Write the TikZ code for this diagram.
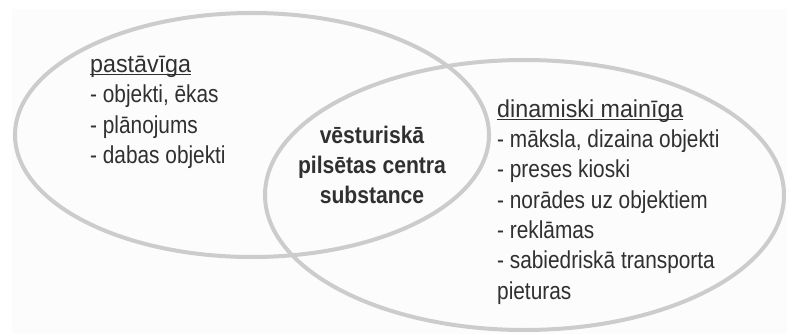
\documentclass[tikz,border=0pt]{standalone}
\usepackage{fontspec}
\setmainfont[FakeStretch=0.85]{Liberation Sans}
\newfontfamily\headfont[FakeStretch=0.95]{Liberation Sans}
\newfontfamily\corefont[FakeStretch=0.88]{Liberation Sans}
\usepackage{xcolor}
\usepackage{tikz}

\definecolor{ringgray}{HTML}{CCCCCC}
\definecolor{textgray}{HTML}{303030}
\definecolor{paper}{HTML}{FCFCFC}

\newcommand{\headline}[1]{\setbox0\hbox{\headfont #1}\rlap{\rule[-2.8pt]{\wd0}{1.4pt}}\box0}

\begin{document}
\begin{tikzpicture}[
        x=1pt, y=-1pt,
        ring/.style={draw=ringgray, line width=4pt},
        list/.style={inner sep=0pt, align=left, text=textgray,
                     font=\fontsize{24.5}{30.3}\selectfont},
        core/.style={inner sep=0pt, align=center, text=textgray,
                     font=\corefont\fontsize{24}{29.5}\selectfont\bfseries}
    ]
        \useasboundingbox (0,0) rectangle (787,334);
        \fill[paper] (12,9) rectangle (787,334);

        % the two sets
        \draw[ring] (252,135) ellipse [x radius=237, y radius=122];
        \draw[ring] (524.5,195) ellipse [x radius=259.5, y radius=135];

        % base anchor = baseline of the last line
        \node[list, anchor=base west] (fixed) at (90,163.5)
            {\headline{pastāvīga}\\- objekti, ēkas\\- plānojums\\- dabas objekti};
        \node[core, anchor=base] (common) at (372,203)
            {vēsturiskā\\pilsētas centra\\substance};
        \node[list, anchor=base west] (changing) at (497,299)
            {\headline{dinamiski mainīga}\\- māksla, dizaina objekti\\- preses kioski\\- norādes uz objektiem\\- reklāmas\\- sabiedriskā transporta\\pieturas};
    \end{tikzpicture}
\end{document}
